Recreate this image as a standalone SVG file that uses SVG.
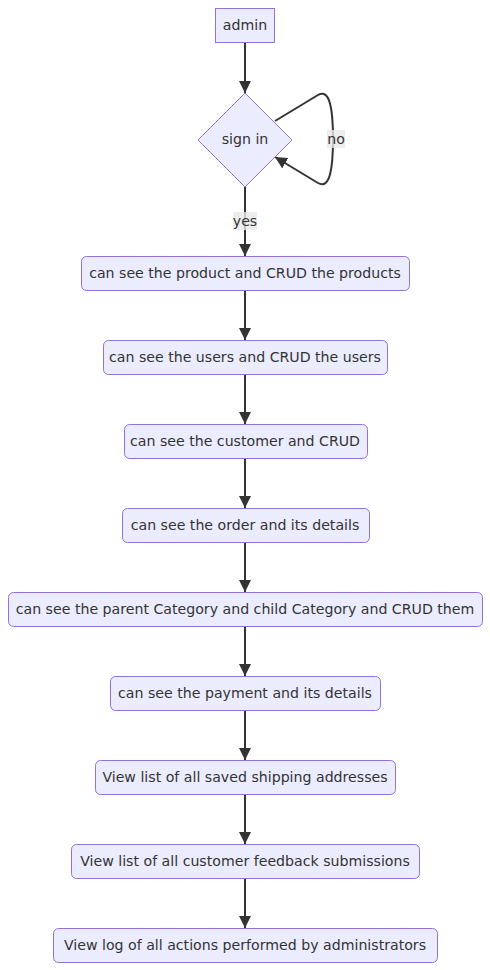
<svg xmlns="http://www.w3.org/2000/svg" width="490" height="970" viewBox="0 0 490 970">
<style>
.node rect,.node polygon{fill:#ECECFF;stroke:#9370DB;stroke-width:1}
text{font-family:"DejaVu Sans",Verdana,sans-serif;font-size:14.15px;fill:#333333;text-anchor:middle;dominant-baseline:central}
.edge{fill:none;stroke:#333333;stroke-width:2}
.lbl{fill:#e8e8e8;fill-opacity:0.8;stroke:none}
</style>
<defs>
<marker id="arrow" viewBox="0 0 10 10" refX="10" refY="5" markerUnits="userSpaceOnUse" markerWidth="12" markerHeight="12" orient="auto">
<path d="M0,0 L10,5 L0,10 z" fill="#333333"/>
</marker>
</defs>
<rect width="490" height="970" fill="#ffffff"/>
<g id="connectors">
<path class="edge" d="M245,42 L245,93" marker-end="url(#arrow)"/>
<path class="edge" d="M275,121 L318,95 C330,88 333,110 333,139 C333,168 330,190 318,183 L275,157" marker-end="url(#arrow)"/>
<path class="edge" d="M245,187 L245,256" marker-end="url(#arrow)"/>
<path class="edge" d="M245,290 L245,340" marker-end="url(#arrow)"/>
<path class="edge" d="M245,374 L245,424" marker-end="url(#arrow)"/>
<path class="edge" d="M245,458 L245,508" marker-end="url(#arrow)"/>
<path class="edge" d="M245,542 L245,592" marker-end="url(#arrow)"/>
<path class="edge" d="M245,626 L245,676" marker-end="url(#arrow)"/>
<path class="edge" d="M245,710 L245,760" marker-end="url(#arrow)"/>
<path class="edge" d="M245,794 L245,844" marker-end="url(#arrow)"/>
<path class="edge" d="M245,878 L245,928" marker-end="url(#arrow)"/>
<g id="label-no"><rect class="lbl" x="327" y="130" width="18" height="18"/><text x="336" y="139">no</text></g>
<g id="label-yes"><rect class="lbl" x="233" y="212" width="24" height="18"/><text x="245" y="221">yes</text></g>
</g>
<g id="admin" class="node"><rect x="215.5" y="8.5" width="59" height="34"/><text x="245" y="25">admin</text></g>
<g id="signin" class="node"><polygon points="245,93 292,140 245,187 198,140"/><text x="245" y="139">sign in</text></g>
<g id="n1" class="node"><rect x="81.5" y="256.5" width="328" height="34" rx="5"/><text x="245" y="273">can see the product and CRUD the products</text></g>
<g id="n2" class="node"><rect x="103.5" y="340.5" width="284" height="34" rx="5"/><text x="245" y="357">can see the users and CRUD the users</text></g>
<g id="n3" class="node"><rect x="124.5" y="424.5" width="243" height="34" rx="5"/><text x="245" y="441">can see the customer and CRUD</text></g>
<g id="n4" class="node"><rect x="122.5" y="508.5" width="247" height="34" rx="5"/><text x="245" y="525">can see the order and its details</text></g>
<g id="n5" class="node"><rect x="8.5" y="592.5" width="474" height="34" rx="5"/><text x="245" y="609">can see the parent Category and child Category and CRUD them</text></g>
<g id="n6" class="node"><rect x="110.5" y="676.5" width="270" height="34" rx="5"/><text x="245" y="693">can see the payment and its details</text></g>
<g id="n7" class="node"><rect x="95.5" y="760.5" width="300" height="34" rx="5"/><text x="245" y="777">View list of all saved shipping addresses</text></g>
<g id="n8" class="node"><rect x="71.5" y="844.5" width="348" height="34" rx="5"/><text x="245" y="861">View list of all customer feedback submissions</text></g>
<g id="n9" class="node"><rect x="53.5" y="928.5" width="384" height="34" rx="5"/><text x="245" y="945">View log of all actions performed by administrators</text></g>
</svg>
